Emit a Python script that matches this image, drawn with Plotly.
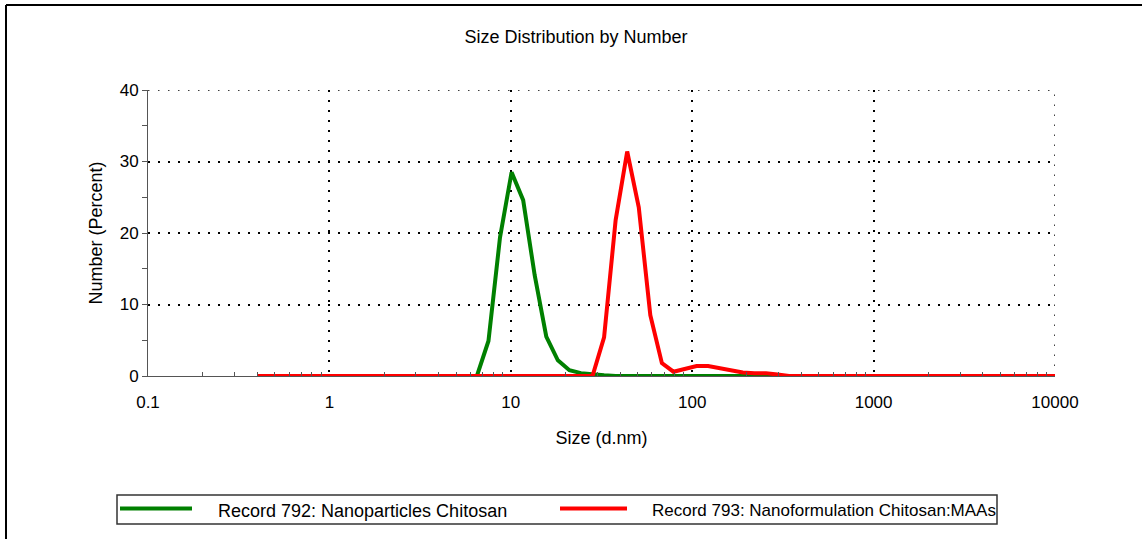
import plotly.graph_objects as go

# Particle size classes (d.nm)
sizes = [
    0.4000, 0.4632, 0.5365, 0.6213, 0.7195, 0.8332, 0.9649, 1.117, 1.294, 1.499,
    1.736, 2.010, 2.328, 2.696, 3.122, 3.615, 4.187, 4.849, 5.615, 6.503,
    7.531, 8.721, 10.10, 11.70, 13.54, 15.69, 18.17, 21.04, 24.36, 28.21,
    32.67, 37.84, 43.82, 50.75, 58.77, 68.06, 78.82, 91.28, 105.7, 122.4,
    141.8, 164.2, 190.1, 220.2, 255.0, 295.3, 342.0, 396.1, 458.7, 531.2,
    615.1, 712.4, 825.0, 955.4, 1106, 1281, 1484, 1718, 1990, 2305,
    2669, 3091, 3580, 4145, 4801, 5560, 6439, 7456, 8635, 10000,
]

# Number distribution (%) - Record 792
chitosan_np = [
    0, 0, 0, 0, 0, 0, 0, 0, 0, 0,
    0, 0, 0, 0, 0, 0, 0, 0, 0, 0,
    4.9, 19.4, 28.5, 24.6, 14.1, 5.5, 2.2, 0.8, 0.4, 0.2,
    0.1, 0, 0, 0, 0, 0, 0, 0, 0, 0,
    0, 0, 0, 0, 0, 0, 0, 0, 0, 0,
    0, 0, 0, 0, 0, 0, 0, 0, 0, 0,
    0, 0, 0, 0, 0, 0, 0, 0, 0, 0,
]

# Number distribution (%) - Record 793
chitosan_maas = [
    0, 0, 0, 0, 0, 0, 0, 0, 0, 0,
    0, 0, 0, 0, 0, 0, 0, 0, 0, 0,
    0, 0, 0, 0, 0, 0, 0, 0, 0, 0,
    5.4, 21.8, 31.4, 23.6, 8.5, 1.8, 0.6, 1.0, 1.4, 1.4,
    1.1, 0.7, 0.5, 0.4, 0.4, 0.2, 0, 0, 0, 0,
    0, 0, 0, 0, 0, 0, 0, 0, 0, 0,
    0, 0, 0, 0, 0, 0, 0, 0, 0, 0,
]

series_names = [
    "Record 792: Nanoparticles Chitosan",
    "Record 793: Nanoformulation Chitosan:MAAs",
]
series_colors = ["#008000", "#FF0000"]

x_tick_values = [0.1, 1, 10, 100, 1000, 10000]
x_tick_labels = ["0.1", "1", "10", "100", "1000", "10000"]
y_tick_values = [0, 10, 20, 30, 40]

W, H = 1142, 539
ML, MR, MT, MB = 148, 87, 90, 163
PW, PH = W - ML - MR, H - MT - MB


def px_x(px):
    return (px - ML) / PW


def px_y(py):
    return (H - MB - py) / PH


fig = go.Figure()
for vals, color, name in zip([chitosan_np, chitosan_maas], series_colors, series_names):
    fig.add_trace(go.Scatter(
        x=sizes, y=vals, mode="lines", name=name,
        line=dict(color=color, width=4), cliponaxis=False,
    ))

minor_x = [k * d for d in [0.1, 1, 10, 100, 1000] for k in range(2, 10)]
axis_grey = "#555555"
font_family = "Liberation Sans, Arial, sans-serif"
grid_dash = "1.5px,8.5px"
text_font = dict(size=18, color="black", family=font_family)
tick_font = dict(size=17, color="black", family=font_family)

fig.update_xaxes(
    type="log", range=[-1, 4],
    tickvals=x_tick_values, ticktext=x_tick_labels, ticks="",
    ticklabelstandoff=11, tickfont=tick_font,
    showline=True, linecolor=axis_grey, linewidth=1,
    showgrid=True, gridcolor="black", gridwidth=1.5, griddash=grid_dash,
    minor=dict(tickvals=minor_x, ticks="inside", ticklen=4, tickcolor=axis_grey, showgrid=False),
    title=dict(text="Size (d.nm)", standoff=19, font=text_font),
    zeroline=False,
)
fig.update_yaxes(
    range=[0, 40], tickvals=y_tick_values, ticks="outside", ticklen=5, tickcolor=axis_grey,
    tickfont=tick_font,
    showline=True, linecolor=axis_grey, linewidth=1,
    showgrid=True, gridcolor="black", gridwidth=1.5, griddash=grid_dash,
    minor=dict(dtick=5, ticks="outside", ticklen=5, tickcolor=axis_grey, showgrid=False),
    title=dict(text="Number (Percent)", standoff=12, font=text_font),
    zeroline=False,
)

shapes = [
    # grid lines along the top and right edges of the plot area
    dict(type="line", xref="paper", yref="y", x0=0, x1=1, y0=40, y1=40,
         line=dict(color="black", width=1.5, dash=grid_dash), layer="below"),
    dict(type="line", xref="x", yref="paper", x0=10000, x1=10000, y0=0, y1=1,
         line=dict(color="black", width=1.5, dash=grid_dash), layer="below"),
    # outer frame (top and left edges)
    dict(type="line", xref="paper", yref="paper", x0=px_x(6), x1=px_x(W + 5), y0=px_y(5), y1=px_y(5),
         line=dict(color="black", width=2)),
    dict(type="line", xref="paper", yref="paper", x0=px_x(6), x1=px_x(6), y0=px_y(5), y1=px_y(H + 5),
         line=dict(color="black", width=2)),
    # legend box
    dict(type="rect", xref="paper", yref="paper", x0=px_x(117), x1=px_x(997), y0=px_y(495), y1=px_y(524),
         line=dict(color="#333333", width=1.5), fillcolor="white"),
]
annotations = []
legend_items = [(120, 192, 216, 18), (560, 627, 650, 17)]
for (lx0, lx1, tx, fs), color, name in zip(legend_items, series_colors, series_names):
    shapes.append(dict(type="line", xref="paper", yref="paper", x0=px_x(lx0), x1=px_x(lx1),
                       y0=px_y(508.5), y1=px_y(508.5), line=dict(color=color, width=4)))
    annotations.append(dict(xref="paper", yref="paper", x=px_x(tx), y=px_y(510.5), text=name,
                            showarrow=False, xanchor="left", yanchor="middle",
                            font=dict(size=fs, color="black", family=font_family)))

fig.update_layout(
    width=W, height=H,
    margin=dict(l=ML, r=MR, t=MT, b=MB),
    paper_bgcolor="white", plot_bgcolor="white",
    font=dict(family=font_family, size=18, color="black"),
    showlegend=False,
    title=dict(text="Size Distribution by Number", x=576 / W, xanchor="center", xref="container",
               y=1 - 37 / H, yanchor="middle", yref="container", font=text_font),
    shapes=shapes, annotations=annotations,
)

fig.write_html("out.html")
